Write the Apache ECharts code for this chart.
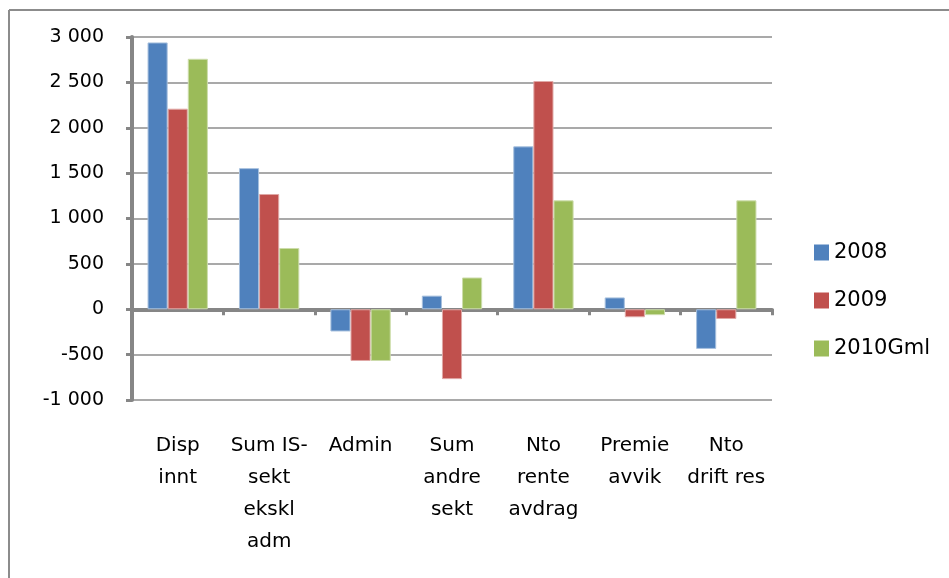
<!DOCTYPE html>
<html>
<head>
<meta charset="utf-8">
<script src="https://cdn.jsdelivr.net/npm/echarts@6/dist/echarts.min.js"></script>
<style>
  html, body { margin: 0; padding: 0; background: #fff; }
  #chartDom { width: 949px; height: 578px; }
</style>
</head>
<body>
<div id="chartDom"></div>
<script>
const categories = ["Disp\ninnt", "Sum IS-\nsekt\nekskl\nadm", "Admin", "Sum\nandre\nsekt", "Nto\nrente\navdrag", "Premie\navvik", "Nto\ndrift res"];
const seriesNames = ["2008", "2009", "2010Gml"];
const values2008 = [2940, 1555, -245, 150, 1795, 130, -437];
const values2009 = [2210, 1270, -570, -770, 2515, -88, -107];
const values2010 = [2760, 675, -570, 350, 1200, -65, 1200];
const colors = ["#4F81BD", "#C0504D", "#9BBB59"];
const borders = ["#A7C0DE", "#E0A8A6", "#CDDDAC"];

const font = "'DejaVu Sans', sans-serif";
const axisGray = "#868686";

let myChart = echarts.init(document.getElementById("chartDom"));

function fmt(v) {
  let s = String(Math.abs(v)).replace(/\B(?=(\d{3})+(?!\d))/g, " ");
  return (v < 0 ? "-" : "") + s;
}

const dataSets = [values2008, values2009, values2010];
let series = [];
for (let i = 0; i < seriesNames.length; i++) {
  series.push({
    name: seriesNames[i],
    type: "bar",
    xAxisIndex: 0,
    barGap: "0%",
    barCategoryGap: "34%",
    itemStyle: { color: colors[i], borderColor: borders[i], borderWidth: 1 },
    data: dataSets[i],
  });
}

const option = {
  animation: false,
  color: colors,
  grid: { left: 132, right: 177, top: 37, bottom: 178 },
  legend: {
    orient: "vertical",
    left: 814,
    top: 242,
    padding: 0,
    itemWidth: 15,
    itemHeight: 16,
    itemGap: 27,
    icon: "rect",
    itemStyle: { borderWidth: 0 },
    textStyle: { fontFamily: font, fontSize: 21, color: "#000", lineHeight: 16 },
    data: seriesNames,
  },
  xAxis: [
    {
      type: "category",
      data: categories,
      position: "bottom",
      axisLine: { show: false, onZero: false },
      axisTick: { show: false },
      axisLabel: {
        interval: 0,
        margin: 30,
        fontFamily: font,
        fontSize: 20,
        lineHeight: 32,
        color: "#000",
        align: "center",
      },
    },
    {
      type: "category",
      data: categories,
      position: "bottom",
      axisLine: { show: true, onZero: true, lineStyle: { color: axisGray, width: 4 } },
      axisTick: { show: true, length: 6, lineStyle: { color: axisGray, width: 3 } },
      axisLabel: { show: false },
    },
  ],
  yAxis: {
    type: "value",
    min: -1000,
    max: 3000,
    interval: 500,
    axisLine: { show: true, lineStyle: { color: axisGray, width: 4 } },
    axisTick: { show: true, length: 6, lineStyle: { color: axisGray, width: 3 } },
    splitLine: { lineStyle: { color: "#8c8c8c", width: 1.5 } },
    axisLabel: {
      margin: 28,
      fontFamily: font,
      fontSize: 19,
      color: "#000",
      formatter: fmt,
    },
  },
  graphic: [
    { type: "line", shape: { x1: 9, y1: 10, x2: 949, y2: 10 }, style: { stroke: "#8c8c8c", lineWidth: 2 } },
    { type: "line", shape: { x1: 9, y1: 10, x2: 9, y2: 578 }, style: { stroke: "#8c8c8c", lineWidth: 2 } },
  ],
  series,
};

option && myChart.setOption(option);
</script>
</body>
</html>
